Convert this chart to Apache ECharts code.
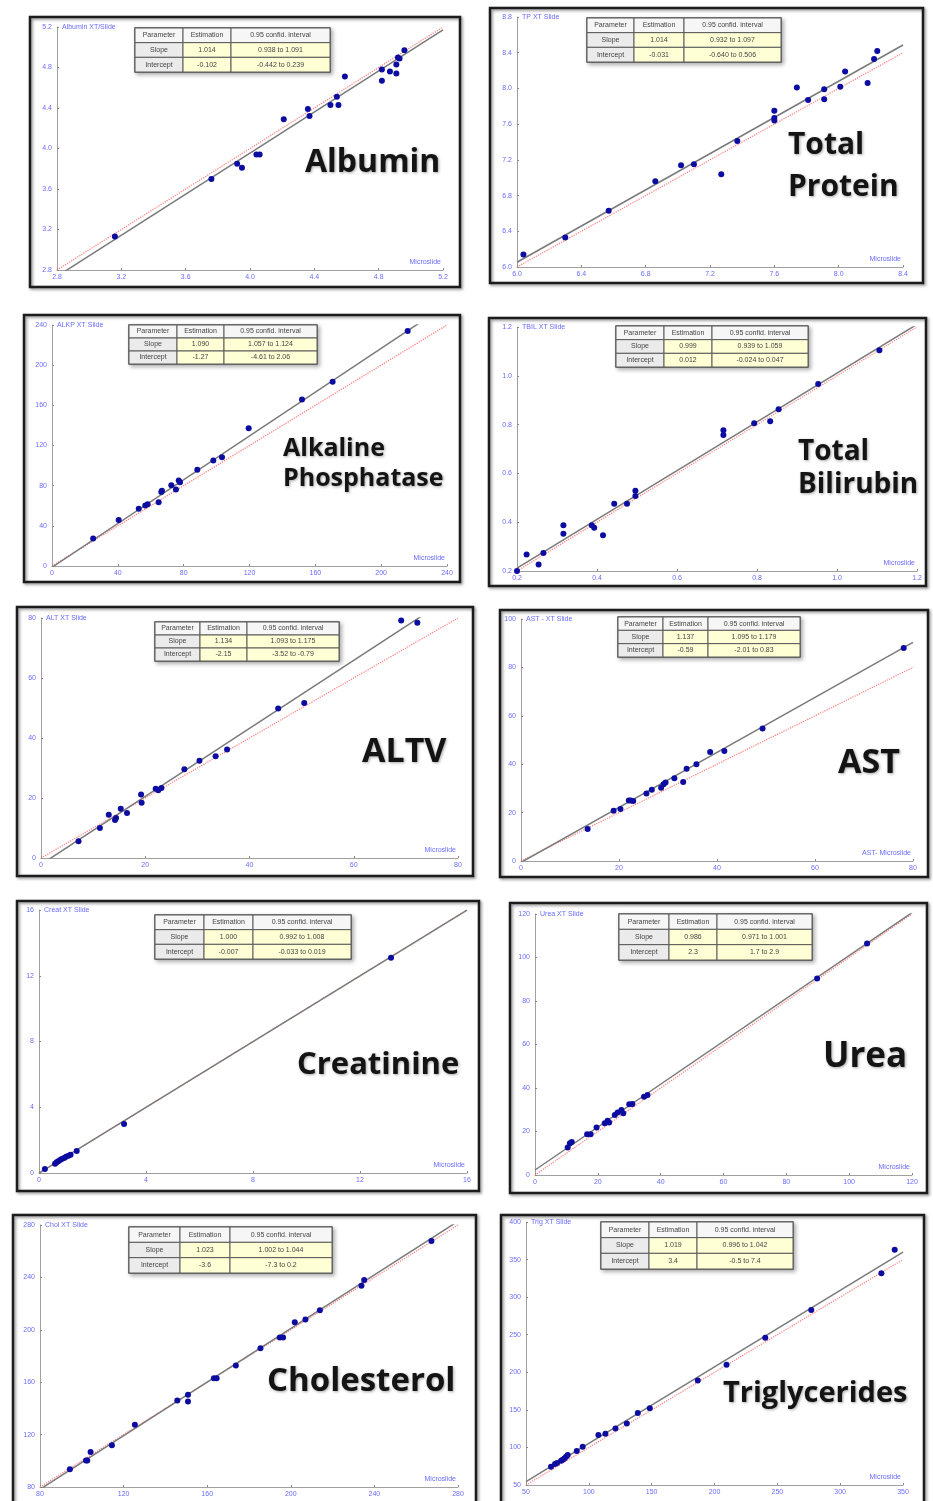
<!DOCTYPE html>
<html>
<head>
<meta charset="utf-8">
<script src="https://cdn.jsdelivr.net/npm/echarts@6/dist/echarts.min.js"></script>
<style>
html, body { margin: 0; padding: 0; background: #fff; }
#chart { width: 933px; height: 1501px; }
</style>
</head>
<body>
<div id="chart"></div>
<script>
// points: [Microslide, XT Slide]
var albumin = [[3.16,3.13],[3.76,3.70],[3.92,3.85],[3.95,3.81],[4.04,3.94],[4.06,3.94],[4.21,4.29],[4.36,4.39],[4.37,4.32],[4.50,4.43],[4.54,4.51],[4.55,4.43],[4.59,4.71],[4.82,4.78],[4.82,4.67],[4.87,4.76],[4.91,4.83],[4.91,4.74],[4.92,4.90],[4.93,4.89],[4.96,4.97]];
var totalProtein = [[6.04,6.14],[6.30,6.33],[6.57,6.63],[6.86,6.96],[7.02,7.14],[7.10,7.15],[7.27,7.04],[7.37,7.41],[7.60,7.75],[7.60,7.67],[7.60,7.64],[7.74,8.01],[7.81,7.87],[7.91,7.99],[7.91,7.88],[8.01,8.02],[8.04,8.19],[8.18,8.06],[8.22,8.33],[8.24,8.42]];
var alkPhos = [[25,27.5],[40.5,45.7],[52.7,57],[56.7,60.3],[58.1,61.6],[64.8,63.6],[66.4,73.6],[66.8,74.9],[72.5,80.5],[75.3,76.2],[77,85.2],[77.8,83.5],[88.3,95.8],[98,105.1],[103.3,108.4],[119.5,137.2],[151.9,165.7],[170.5,183.6],[216.1,234]];
var bilirubin = [[0.2,0.2],[0.224,0.268],[0.254,0.227],[0.266,0.274],[0.316,0.388],[0.316,0.353],[0.387,0.388],[0.393,0.377],[0.415,0.347],[0.443,0.476],[0.475,0.476],[0.496,0.529],[0.496,0.507],[0.716,0.777],[0.716,0.757],[0.793,0.806],[0.833,0.814],[0.854,0.863],[0.953,0.966],[1.106,1.105]];
var alt = [[7.2,5.6],[11.3,10.0],[13.0,14.4],[14.2,12.7],[14.4,13.3],[15.3,16.4],[16.5,15.0],[19.2,21.2],[19.3,18.4],[22.0,23.1],[22.5,22.6],[23.1,23.3],[27.5,29.6],[30.4,32.4],[33.5,33.9],[35.7,36.2],[45.5,49.8],[50.5,51.7],[69.1,79.2],[72.2,78.4]];
var ast = [[13.6,13.2],[18.9,20.8],[20.3,21.5],[22.0,25.0],[22.4,25.0],[22.9,24.8],[25.6,27.9],[26.7,29.4],[28.6,30.3],[29.1,31.7],[29.5,32.4],[31.3,34.2],[33.1,32.6],[33.8,38.1],[35.8,40.0],[38.6,45.0],[41.5,45.5],[49.3,54.8],[78.1,88.0]];
var creatinine = [[0.22,0.24],[0.6,0.57],[0.66,0.65],[0.72,0.71],[0.79,0.79],[0.85,0.85],[0.94,0.91],[1.01,0.99],[1.10,1.05],[1.18,1.11],[1.41,1.34],[3.18,2.98],[13.16,13.1]];
var urea = [[10.4,12.7],[11.1,14.6],[11.7,15.2],[16.6,18.7],[17.7,18.7],[19.6,21.8],[22.2,23.8],[23.1,25.0],[23.6,24.1],[25.4,27.6],[26.3,28.7],[27.5,29.9],[28.1,28.4],[30.0,32.5],[31.0,32.6],[34.7,36.0],[35.8,36.8],[89.8,90.3],[105.7,106.4]];
var cholesterol = [[94.3,93.5],[102.0,100.3],[102.6,100.3],[104.2,106.7],[114.4,111.8],[125.4,127.5],[145.7,146.1],[150.8,150.4],[150.8,145.3],[163.2,163.1],[164.5,163.1],[173.7,172.8],[185.5,186.0],[194.7,194.1],[196.3,194.1],[201.9,205.8],[207.0,207.8],[213.9,214.9],[233.8,233.7],[235.1,238.1],[267.3,267.8]];
var triglycerides = [[69.9,74.4],[73.1,77.9],[74.7,79.2],[77.9,82.3],[79.2,83.7],[80.5,85.4],[81.9,87.6],[83.2,89.9],[90.4,95.2],[95.1,100.9],[107.6,116.4],[113.2,118.2],[121.2,125.3],[130.2,131.9],[139.0,145.7],[148.5,152.3],[186.7,189.1],[209.6,209.9],[240.4,245.8],[277.0,283.0],[332.8,331.7],[343.4,363.1]];

var points = [albumin, totalProtein, alkPhos, bilirubin, alt, ast, creatinine, urea, cholesterol, triglycerides];
var titles = ['Albumin', 'Total\nProtein', 'Alkaline\nPhosphatase', 'Total\nBilirubin', 'ALTV', 'AST', 'Creatinine', 'Urea', 'Cholesterol', 'Triglycerides'];
var yNames = ['Albumin XT/Slide', 'TP XT Slide', 'ALKP XT Slide', 'TBIL XT Slide', 'ALT XT Slide', 'AST - XT Slide', 'Creat XT Slide', 'Urea XT Slide', 'Chol XT Slide', 'Trig XT Slide'];
var xNames = ['Microslide', 'Microslide', 'Microslide', 'Microslide', 'Microslide', 'AST- Microslide', 'Microslide', 'Microslide', 'Microslide', 'Microslide'];

// axis ticks
var xMin = [2.8, 6.0, 0, 0.2, 0, 0, 0, 0, 80, 50];
var xMax = [5.2, 8.4, 240, 1.2, 80, 80, 16, 120, 280, 350];
var yMin = [2.8, 6.0, 0, 0.2, 0, 0, 0, 0, 80, 50];
var yMax = [5.2, 8.8, 240, 1.2, 80, 100, 16, 120, 280, 400];
var step = [0.4, 0.4, 40, 0.2, 20, 20, 4, 20, 40, 50];
var decimals = [1, 1, 0, 1, 0, 0, 0, 0, 0, 0];

// regression tables
var tableHead = ['Parameter', 'Estimation', '0.95 confid. interval'];
var slope = ['1.014', '1.014', '1.090', '0.999', '1.134', '1.137', '1.000', '0.986', '1.023', '1.019'];
var slopeCI = ['0.938 to 1.091', '0.932 to 1.097', '1.057 to 1.124', '0.939 to 1.059', '1.093 to 1.175', '1.095 to 1.179', '0.992 to 1.008', '0.971 to 1.001', '1.002 to 1.044', '0.996 to 1.042'];
var intercept = ['-0.102', '-0.031', '-1.27', '0.012', '-2.15', '-0.59', '-0.007', '2.3', '-3.6', '3.4'];
var interceptCI = ['-0.442 to 0.239', '-0.640 to 0.506', '-4.61 to 2.06', '-0.024 to 0.047', '-3.52 to -0.79', '-2.01 to 0.83', '-0.033 to 0.019', '1.7 to 2.9', '-7.3 to 0.2', '-0.5 to 7.4'];

// page layout (pixels)
var gridBox = [[57,27,386,243],[517,17,386,250],[52,325,395,241],[517,327,400,244],[41,618,417,240],[521,619,392,242],[39,910,428,263],[535,914,377,261],[40,1225,418,262],[526,1222,377,263]];
var frameBox = [[30,17,430,270],[490,8,433,275],[24,315,436,267],[489,318,437,268],[17,607,456,269],[500,610,428,267],[17,901,462,290],[510,903,417,290],[13,1215,463,300],[501,1215,423,300]];
var tableBox = [[135,28,[48,48,99],44],[587,18,[47,50,97],44],[129,325,[48,47,93],39],[616,326,[48,48,96],41],[155,622,[45,47,92],39],[618,617,[45,45,92],40],[155,915,[49,49,98],44],[619,914,[50,48,95],46],[129,1227,[51,50,102],46],[601,1222,[48,48,96],47]];
var titleBox = [[305,163,32,0],[788,145,30,42],[283,449,25,30],[798,452,28,33],[362,752,34,0],[838,763,34,0],[297,1065,31,0],[823,1057,35,0],[267,1382,33,0],[723,1394,29,0]];

var BLUE_TXT = '#6b6bff';
var chart = echarts.init(document.getElementById('chart'));

var grids = [], xAxes = [], yAxes = [], series = [], graphics = [];

for (var i = 0; i < points.length; i++) {
    var g = gridBox[i];
    grids.push({ left: g[0], top: g[1], width: g[2], height: g[3] });

    (function (d) {
        var fmt = function (v) { return v.toFixed(d); };
        xAxes.push({
            gridIndex: i, type: 'value', min: xMin[i], max: xMax[i], interval: step[i],
            name: xNames[i], nameLocation: 'end', nameGap: -2,
            nameTextStyle: { color: BLUE_TXT, fontSize: 7, align: 'right', verticalAlign: 'bottom', padding: [0, 0, 4, 0] },
            axisLine: { show: true, onZero: false, lineStyle: { color: '#a0a0a0', width: 1 } },
            axisTick: { show: true, inside: true, length: 2, lineStyle: { color: '#888' } },
            axisLabel: { color: BLUE_TXT, fontSize: 7, margin: 4, formatter: fmt },
            splitLine: { show: false }
        });
        yAxes.push({
            gridIndex: i, type: 'value', min: yMin[i], max: yMax[i], interval: step[i],
            name: yNames[i], nameLocation: 'end', nameGap: 0,
            nameTextStyle: { color: BLUE_TXT, fontSize: 7, align: 'left', verticalAlign: 'middle', padding: [0, 0, 0, 5] },
            axisLine: { show: true, onZero: false, lineStyle: { color: '#a0a0a0', width: 1 } },
            axisTick: { show: true, inside: true, length: 2, lineStyle: { color: '#888' } },
            axisLabel: { color: BLUE_TXT, fontSize: 7, margin: 5, formatter: fmt },
            splitLine: { show: false }
        });
    })(decimals[i]);

    // identity line (red dotted) and regression line (grey solid)
    var s = parseFloat(slope[i]), b = parseFloat(intercept[i]);
    series.push({
        type: 'line', xAxisIndex: i, yAxisIndex: i, symbol: 'none', silent: true, clip: true, z: 2,
        data: [[xMin[i], xMin[i]], [xMax[i], xMax[i]]],
        lineStyle: { color: '#ff7b7b', width: 1.2, type: 'dotted' }
    });
    series.push({
        type: 'line', xAxisIndex: i, yAxisIndex: i, symbol: 'none', silent: true, clip: true, z: 3,
        data: [[xMin[i], s * xMin[i] + b], [xMax[i], s * xMax[i] + b]],
        lineStyle: { color: '#7a7a7a', width: 1.5 }
    });
    series.push({
        type: 'scatter', xAxisIndex: i, yAxisIndex: i, symbolSize: 6, z: 4,
        data: points[i],
        itemStyle: { color: '#0c0ca0', opacity: 1 }
    });

    // panel frame
    var f = frameBox[i];
    graphics.push({
        type: 'rect', z: 1, silent: true,
        shape: { x: f[0], y: f[1], width: f[2], height: f[3] },
        style: { fill: 'none', stroke: '#1c1c1c', lineWidth: 2.5, shadowBlur: 3, shadowColor: 'rgba(0,0,0,0.45)', shadowOffsetX: 1.5, shadowOffsetY: 1.5 }
    });

    // regression table
    var t = tableBox[i], rowH = t[3] / 3;
    var totalW = t[2][0] + t[2][1] + t[2][2];
    var rows = [tableHead, ['Slope', slope[i], slopeCI[i]], ['Intercept', intercept[i], interceptCI[i]]];
    graphics.push({
        type: 'rect', z: 100, silent: true,
        shape: { x: t[0], y: t[1], width: totalW, height: t[3] },
        style: { fill: '#fff', stroke: '#555', lineWidth: 1.5, shadowBlur: 4, shadowColor: 'rgba(0,0,0,0.3)', shadowOffsetX: 2, shadowOffsetY: 2 }
    });
    for (var r = 0; r < 3; r++) {
        var cx = t[0];
        for (var c = 0; c < 3; c++) {
            var w = t[2][c];
            var fill = r === 0 ? '#f6f6f6' : (c === 0 ? '#ebebeb' : '#ffffd6');
            graphics.push({
                type: 'rect', z: 101, silent: true,
                shape: { x: cx, y: t[1] + r * rowH, width: w, height: rowH },
                style: { fill: fill, stroke: '#5a5a5a', lineWidth: 1 }
            });
            graphics.push({
                type: 'text', z: 102, silent: true,
                style: {
                    text: rows[r][c], x: cx + w / 2, y: t[1] + r * rowH + rowH / 2,
                    font: '7px "Liberation Sans", Arial, sans-serif', fill: '#444',
                    align: 'center', verticalAlign: 'middle', textAlign: 'center', textVerticalAlign: 'middle'
                }
            });
            cx += w;
        }
    }

    // big analyte name
    var tb = titleBox[i], lines = titles[i].split('\n');
    for (var k = 0; k < lines.length; k++) {
        graphics.push({
            type: 'text', z: 50, silent: true,
            style: {
                text: lines[k], x: tb[0], y: tb[1] + k * tb[3],
                font: 'bold ' + tb[2] + 'px "Open Sans", "Noto Sans", sans-serif', fill: '#141414',
                align: 'left', verticalAlign: 'middle', textAlign: 'left', textVerticalAlign: 'middle',
                textShadowBlur: 3, textShadowColor: 'rgba(0,0,0,0.35)', textShadowOffsetX: 1, textShadowOffsetY: 1
            }
        });
    }
}

var option = {
    animation: false,
    backgroundColor: '#fff',
    textStyle: { fontFamily: '"Liberation Sans", Arial, sans-serif' },
    grid: grids,
    xAxis: xAxes,
    yAxis: yAxes,
    series: series,
    graphic: { elements: graphics }
};
chart.setOption(option);
</script>
</body>
</html>
